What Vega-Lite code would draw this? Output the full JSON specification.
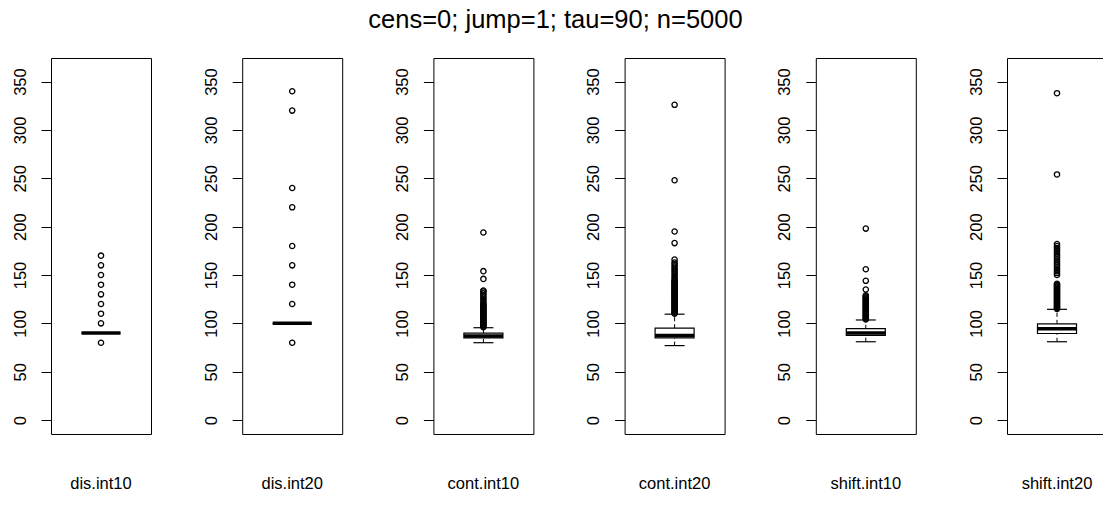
{
  "$schema": "https://vega.github.io/schema/vega-lite/v6.json",
  "background": "white",
  "padding": {"left": 11, "top": 7, "right": 0, "bottom": 0},
  "title": {"text": "cens=0; jump=1; tau=90; n=5000", "fontSize": 25.5, "fontWeight": "normal", "color": "black", "offset": 24.5, "anchor": "middle", "dx": -4},
  "config": {
    "font": "Liberation Sans",
    "view": {"stroke": "black", "strokeWidth": 1},
    "axis": {"grid": false, "domain": false, "tickColor": "black", "tickWidth": 1, "labelColor": "black", "labelFontSize": 16.5}
  },
  "data": {"values": [
    {"name": "dis.int10", "kind": "box", "lo": 90, "q1": 90, "med": 90, "q3": 90, "hi": 90},
    {"name": "dis.int20", "kind": "box", "lo": 100, "q1": 100, "med": 100, "q3": 100, "hi": 100},
    {"name": "cont.int10", "kind": "box", "lo": 80, "q1": 85, "med": 87, "q3": 90, "hi": 95.5},
    {"name": "cont.int20", "kind": "box", "lo": 77, "q1": 85, "med": 87.5, "q3": 95, "hi": 109.5},
    {"name": "shift.int10", "kind": "box", "lo": 81, "q1": 87.5, "med": 90, "q3": 94.5, "hi": 103.5},
    {"name": "shift.int20", "kind": "box", "lo": 81, "q1": 89.5, "med": 94.5, "q3": 99.5, "hi": 114.5},

    {"name": "dis.int10", "kind": "out", "v": 80},
    {"name": "dis.int10", "kind": "out", "v": 100},
    {"name": "dis.int10", "kind": "out", "v": 110},
    {"name": "dis.int10", "kind": "out", "v": 120},
    {"name": "dis.int10", "kind": "out", "v": 130},
    {"name": "dis.int10", "kind": "out", "v": 140},
    {"name": "dis.int10", "kind": "out", "v": 150},
    {"name": "dis.int10", "kind": "out", "v": 160},
    {"name": "dis.int10", "kind": "out", "v": 170},

    {"name": "dis.int20", "kind": "out", "v": 80},
    {"name": "dis.int20", "kind": "out", "v": 120},
    {"name": "dis.int20", "kind": "out", "v": 140},
    {"name": "dis.int20", "kind": "out", "v": 160},
    {"name": "dis.int20", "kind": "out", "v": 180},
    {"name": "dis.int20", "kind": "out", "v": 220},
    {"name": "dis.int20", "kind": "out", "v": 240},
    {"name": "dis.int20", "kind": "out", "v": 320},
    {"name": "dis.int20", "kind": "out", "v": 340},

    {"name": "cont.int10", "kind": "out", "v": 96},
    {"name": "cont.int10", "kind": "out", "v": 97},
    {"name": "cont.int10", "kind": "out", "v": 98},
    {"name": "cont.int10", "kind": "out", "v": 99},
    {"name": "cont.int10", "kind": "out", "v": 100},
    {"name": "cont.int10", "kind": "out", "v": 101},
    {"name": "cont.int10", "kind": "out", "v": 102},
    {"name": "cont.int10", "kind": "out", "v": 103},
    {"name": "cont.int10", "kind": "out", "v": 104},
    {"name": "cont.int10", "kind": "out", "v": 105},
    {"name": "cont.int10", "kind": "out", "v": 106},
    {"name": "cont.int10", "kind": "out", "v": 107},
    {"name": "cont.int10", "kind": "out", "v": 108},
    {"name": "cont.int10", "kind": "out", "v": 109},
    {"name": "cont.int10", "kind": "out", "v": 110},
    {"name": "cont.int10", "kind": "out", "v": 111},
    {"name": "cont.int10", "kind": "out", "v": 112},
    {"name": "cont.int10", "kind": "out", "v": 113},
    {"name": "cont.int10", "kind": "out", "v": 114},
    {"name": "cont.int10", "kind": "out", "v": 115},
    {"name": "cont.int10", "kind": "out", "v": 116},
    {"name": "cont.int10", "kind": "out", "v": 117},
    {"name": "cont.int10", "kind": "out", "v": 118},
    {"name": "cont.int10", "kind": "out", "v": 119},
    {"name": "cont.int10", "kind": "out", "v": 120},
    {"name": "cont.int10", "kind": "out", "v": 121},
    {"name": "cont.int10", "kind": "out", "v": 123},
    {"name": "cont.int10", "kind": "out", "v": 125},
    {"name": "cont.int10", "kind": "out", "v": 127},
    {"name": "cont.int10", "kind": "out", "v": 129},
    {"name": "cont.int10", "kind": "out", "v": 131},
    {"name": "cont.int10", "kind": "out", "v": 133},
    {"name": "cont.int10", "kind": "out", "v": 134},
    {"name": "cont.int10", "kind": "out", "v": 146},
    {"name": "cont.int10", "kind": "out", "v": 154},
    {"name": "cont.int10", "kind": "out", "v": 194},

    {"name": "cont.int20", "kind": "out", "v": 110},
    {"name": "cont.int20", "kind": "out", "v": 111},
    {"name": "cont.int20", "kind": "out", "v": 112},
    {"name": "cont.int20", "kind": "out", "v": 113},
    {"name": "cont.int20", "kind": "out", "v": 114},
    {"name": "cont.int20", "kind": "out", "v": 115},
    {"name": "cont.int20", "kind": "out", "v": 116},
    {"name": "cont.int20", "kind": "out", "v": 117},
    {"name": "cont.int20", "kind": "out", "v": 118},
    {"name": "cont.int20", "kind": "out", "v": 119},
    {"name": "cont.int20", "kind": "out", "v": 120},
    {"name": "cont.int20", "kind": "out", "v": 121},
    {"name": "cont.int20", "kind": "out", "v": 122},
    {"name": "cont.int20", "kind": "out", "v": 123},
    {"name": "cont.int20", "kind": "out", "v": 124},
    {"name": "cont.int20", "kind": "out", "v": 125},
    {"name": "cont.int20", "kind": "out", "v": 126},
    {"name": "cont.int20", "kind": "out", "v": 127},
    {"name": "cont.int20", "kind": "out", "v": 128},
    {"name": "cont.int20", "kind": "out", "v": 129},
    {"name": "cont.int20", "kind": "out", "v": 130},
    {"name": "cont.int20", "kind": "out", "v": 131},
    {"name": "cont.int20", "kind": "out", "v": 132},
    {"name": "cont.int20", "kind": "out", "v": 133},
    {"name": "cont.int20", "kind": "out", "v": 134},
    {"name": "cont.int20", "kind": "out", "v": 135},
    {"name": "cont.int20", "kind": "out", "v": 136},
    {"name": "cont.int20", "kind": "out", "v": 137},
    {"name": "cont.int20", "kind": "out", "v": 138},
    {"name": "cont.int20", "kind": "out", "v": 139},
    {"name": "cont.int20", "kind": "out", "v": 140},
    {"name": "cont.int20", "kind": "out", "v": 141},
    {"name": "cont.int20", "kind": "out", "v": 142},
    {"name": "cont.int20", "kind": "out", "v": 143},
    {"name": "cont.int20", "kind": "out", "v": 144},
    {"name": "cont.int20", "kind": "out", "v": 145},
    {"name": "cont.int20", "kind": "out", "v": 147},
    {"name": "cont.int20", "kind": "out", "v": 149},
    {"name": "cont.int20", "kind": "out", "v": 151},
    {"name": "cont.int20", "kind": "out", "v": 153},
    {"name": "cont.int20", "kind": "out", "v": 155},
    {"name": "cont.int20", "kind": "out", "v": 157},
    {"name": "cont.int20", "kind": "out", "v": 159},
    {"name": "cont.int20", "kind": "out", "v": 161},
    {"name": "cont.int20", "kind": "out", "v": 163},
    {"name": "cont.int20", "kind": "out", "v": 166},
    {"name": "cont.int20", "kind": "out", "v": 183},
    {"name": "cont.int20", "kind": "out", "v": 195},
    {"name": "cont.int20", "kind": "out", "v": 248},
    {"name": "cont.int20", "kind": "out", "v": 326},

    {"name": "shift.int10", "kind": "out", "v": 104},
    {"name": "shift.int10", "kind": "out", "v": 105},
    {"name": "shift.int10", "kind": "out", "v": 106},
    {"name": "shift.int10", "kind": "out", "v": 107},
    {"name": "shift.int10", "kind": "out", "v": 108},
    {"name": "shift.int10", "kind": "out", "v": 109},
    {"name": "shift.int10", "kind": "out", "v": 110},
    {"name": "shift.int10", "kind": "out", "v": 111},
    {"name": "shift.int10", "kind": "out", "v": 112},
    {"name": "shift.int10", "kind": "out", "v": 113},
    {"name": "shift.int10", "kind": "out", "v": 114},
    {"name": "shift.int10", "kind": "out", "v": 115},
    {"name": "shift.int10", "kind": "out", "v": 116},
    {"name": "shift.int10", "kind": "out", "v": 117},
    {"name": "shift.int10", "kind": "out", "v": 118},
    {"name": "shift.int10", "kind": "out", "v": 119},
    {"name": "shift.int10", "kind": "out", "v": 120},
    {"name": "shift.int10", "kind": "out", "v": 121},
    {"name": "shift.int10", "kind": "out", "v": 122},
    {"name": "shift.int10", "kind": "out", "v": 123},
    {"name": "shift.int10", "kind": "out", "v": 124},
    {"name": "shift.int10", "kind": "out", "v": 125},
    {"name": "shift.int10", "kind": "out", "v": 126},
    {"name": "shift.int10", "kind": "out", "v": 127},
    {"name": "shift.int10", "kind": "out", "v": 128},
    {"name": "shift.int10", "kind": "out", "v": 129},
    {"name": "shift.int10", "kind": "out", "v": 135},
    {"name": "shift.int10", "kind": "out", "v": 144},
    {"name": "shift.int10", "kind": "out", "v": 156},
    {"name": "shift.int10", "kind": "out", "v": 198},

    {"name": "shift.int20", "kind": "out", "v": 115},
    {"name": "shift.int20", "kind": "out", "v": 116},
    {"name": "shift.int20", "kind": "out", "v": 117},
    {"name": "shift.int20", "kind": "out", "v": 118},
    {"name": "shift.int20", "kind": "out", "v": 119},
    {"name": "shift.int20", "kind": "out", "v": 120},
    {"name": "shift.int20", "kind": "out", "v": 121},
    {"name": "shift.int20", "kind": "out", "v": 122},
    {"name": "shift.int20", "kind": "out", "v": 123},
    {"name": "shift.int20", "kind": "out", "v": 124},
    {"name": "shift.int20", "kind": "out", "v": 125},
    {"name": "shift.int20", "kind": "out", "v": 126},
    {"name": "shift.int20", "kind": "out", "v": 127},
    {"name": "shift.int20", "kind": "out", "v": 128},
    {"name": "shift.int20", "kind": "out", "v": 129},
    {"name": "shift.int20", "kind": "out", "v": 130},
    {"name": "shift.int20", "kind": "out", "v": 131},
    {"name": "shift.int20", "kind": "out", "v": 132},
    {"name": "shift.int20", "kind": "out", "v": 133},
    {"name": "shift.int20", "kind": "out", "v": 134},
    {"name": "shift.int20", "kind": "out", "v": 135},
    {"name": "shift.int20", "kind": "out", "v": 136},
    {"name": "shift.int20", "kind": "out", "v": 137},
    {"name": "shift.int20", "kind": "out", "v": 138},
    {"name": "shift.int20", "kind": "out", "v": 139},
    {"name": "shift.int20", "kind": "out", "v": 140},
    {"name": "shift.int20", "kind": "out", "v": 141},
    {"name": "shift.int20", "kind": "out", "v": 150},
    {"name": "shift.int20", "kind": "out", "v": 152},
    {"name": "shift.int20", "kind": "out", "v": 154},
    {"name": "shift.int20", "kind": "out", "v": 156},
    {"name": "shift.int20", "kind": "out", "v": 158},
    {"name": "shift.int20", "kind": "out", "v": 160},
    {"name": "shift.int20", "kind": "out", "v": 162},
    {"name": "shift.int20", "kind": "out", "v": 164},
    {"name": "shift.int20", "kind": "out", "v": 166},
    {"name": "shift.int20", "kind": "out", "v": 168},
    {"name": "shift.int20", "kind": "out", "v": 170},
    {"name": "shift.int20", "kind": "out", "v": 172},
    {"name": "shift.int20", "kind": "out", "v": 174},
    {"name": "shift.int20", "kind": "out", "v": 176},
    {"name": "shift.int20", "kind": "out", "v": 178},
    {"name": "shift.int20", "kind": "out", "v": 180},
    {"name": "shift.int20", "kind": "out", "v": 182},
    {"name": "shift.int20", "kind": "out", "v": 254},
    {"name": "shift.int20", "kind": "out", "v": 338}
  ]},
  "facet": {
    "column": {
      "field": "name", "type": "nominal",
      "sort": ["dis.int10", "dis.int20", "cont.int10", "cont.int20", "shift.int10", "shift.int20"],
      "title": null,
      "header": {"labelOrient": "bottom", "labelFontSize": 16.5, "labelColor": "black", "labelPadding": 41}
    }
  },
  "spacing": {"column": 50.2},
  "resolve": {"scale": {"x": "independent"}, "axis": {"y": "independent"}},
  "spec": {
    "width": 100,
    "height": 376,
    "encoding": {
      "x": {"field": "name", "type": "nominal", "axis": null}
    },
    "layer": [
      {
        "transform": [{"filter": "datum.kind === 'box'"}],
        "mark": {"type": "rule", "color": "black", "strokeWidth": 1, "strokeDash": [4, 3]},
        "encoding": {
          "y": {"field": "lo", "type": "quantitative", "scale": {"domain": [-14.4, 374.4], "nice": false, "zero": false},
                "axis": {"title": null, "values": [0, 50, 100, 150, 200, 250, 300, 350], "labelAngle": 270, "tickSize": 10, "labelPadding": 13, "minExtent": 39, "maxExtent": 39}},
          "y2": {"field": "q1"}
        }
      },
      {
        "transform": [{"filter": "datum.kind === 'box'"}],
        "mark": {"type": "rule", "color": "black", "strokeWidth": 1, "strokeDash": [4, 3]},
        "encoding": {
          "y": {"field": "q3", "type": "quantitative"},
          "y2": {"field": "hi"}
        }
      },
      {
        "transform": [{"filter": "datum.kind === 'box'"}],
        "mark": {"type": "tick", "color": "black", "size": 20, "thickness": 1.2, "opacity": 1},
        "encoding": {"y": {"field": "lo", "type": "quantitative"}}
      },
      {
        "transform": [{"filter": "datum.kind === 'box'"}],
        "mark": {"type": "tick", "color": "black", "size": 20, "thickness": 1.2, "opacity": 1},
        "encoding": {"y": {"field": "hi", "type": "quantitative"}}
      },
      {
        "transform": [{"filter": "datum.kind === 'box'"}],
        "mark": {"type": "bar", "width": 39, "fill": "white", "stroke": "black", "strokeWidth": 1.2},
        "encoding": {
          "y": {"field": "q1", "type": "quantitative"},
          "y2": {"field": "q3"}
        }
      },
      {
        "transform": [{"filter": "datum.kind === 'box'"}],
        "mark": {"type": "tick", "color": "black", "size": 39, "thickness": 3.5, "opacity": 1},
        "encoding": {"y": {"field": "med", "type": "quantitative"}}
      },
      {
        "transform": [{"filter": "datum.kind === 'out'"}],
        "mark": {"type": "point", "shape": "circle", "filled": false, "color": "black", "size": 28, "strokeWidth": 1.3, "opacity": 1},
        "encoding": {"y": {"field": "v", "type": "quantitative"}}
      }
    ]
  }
}
